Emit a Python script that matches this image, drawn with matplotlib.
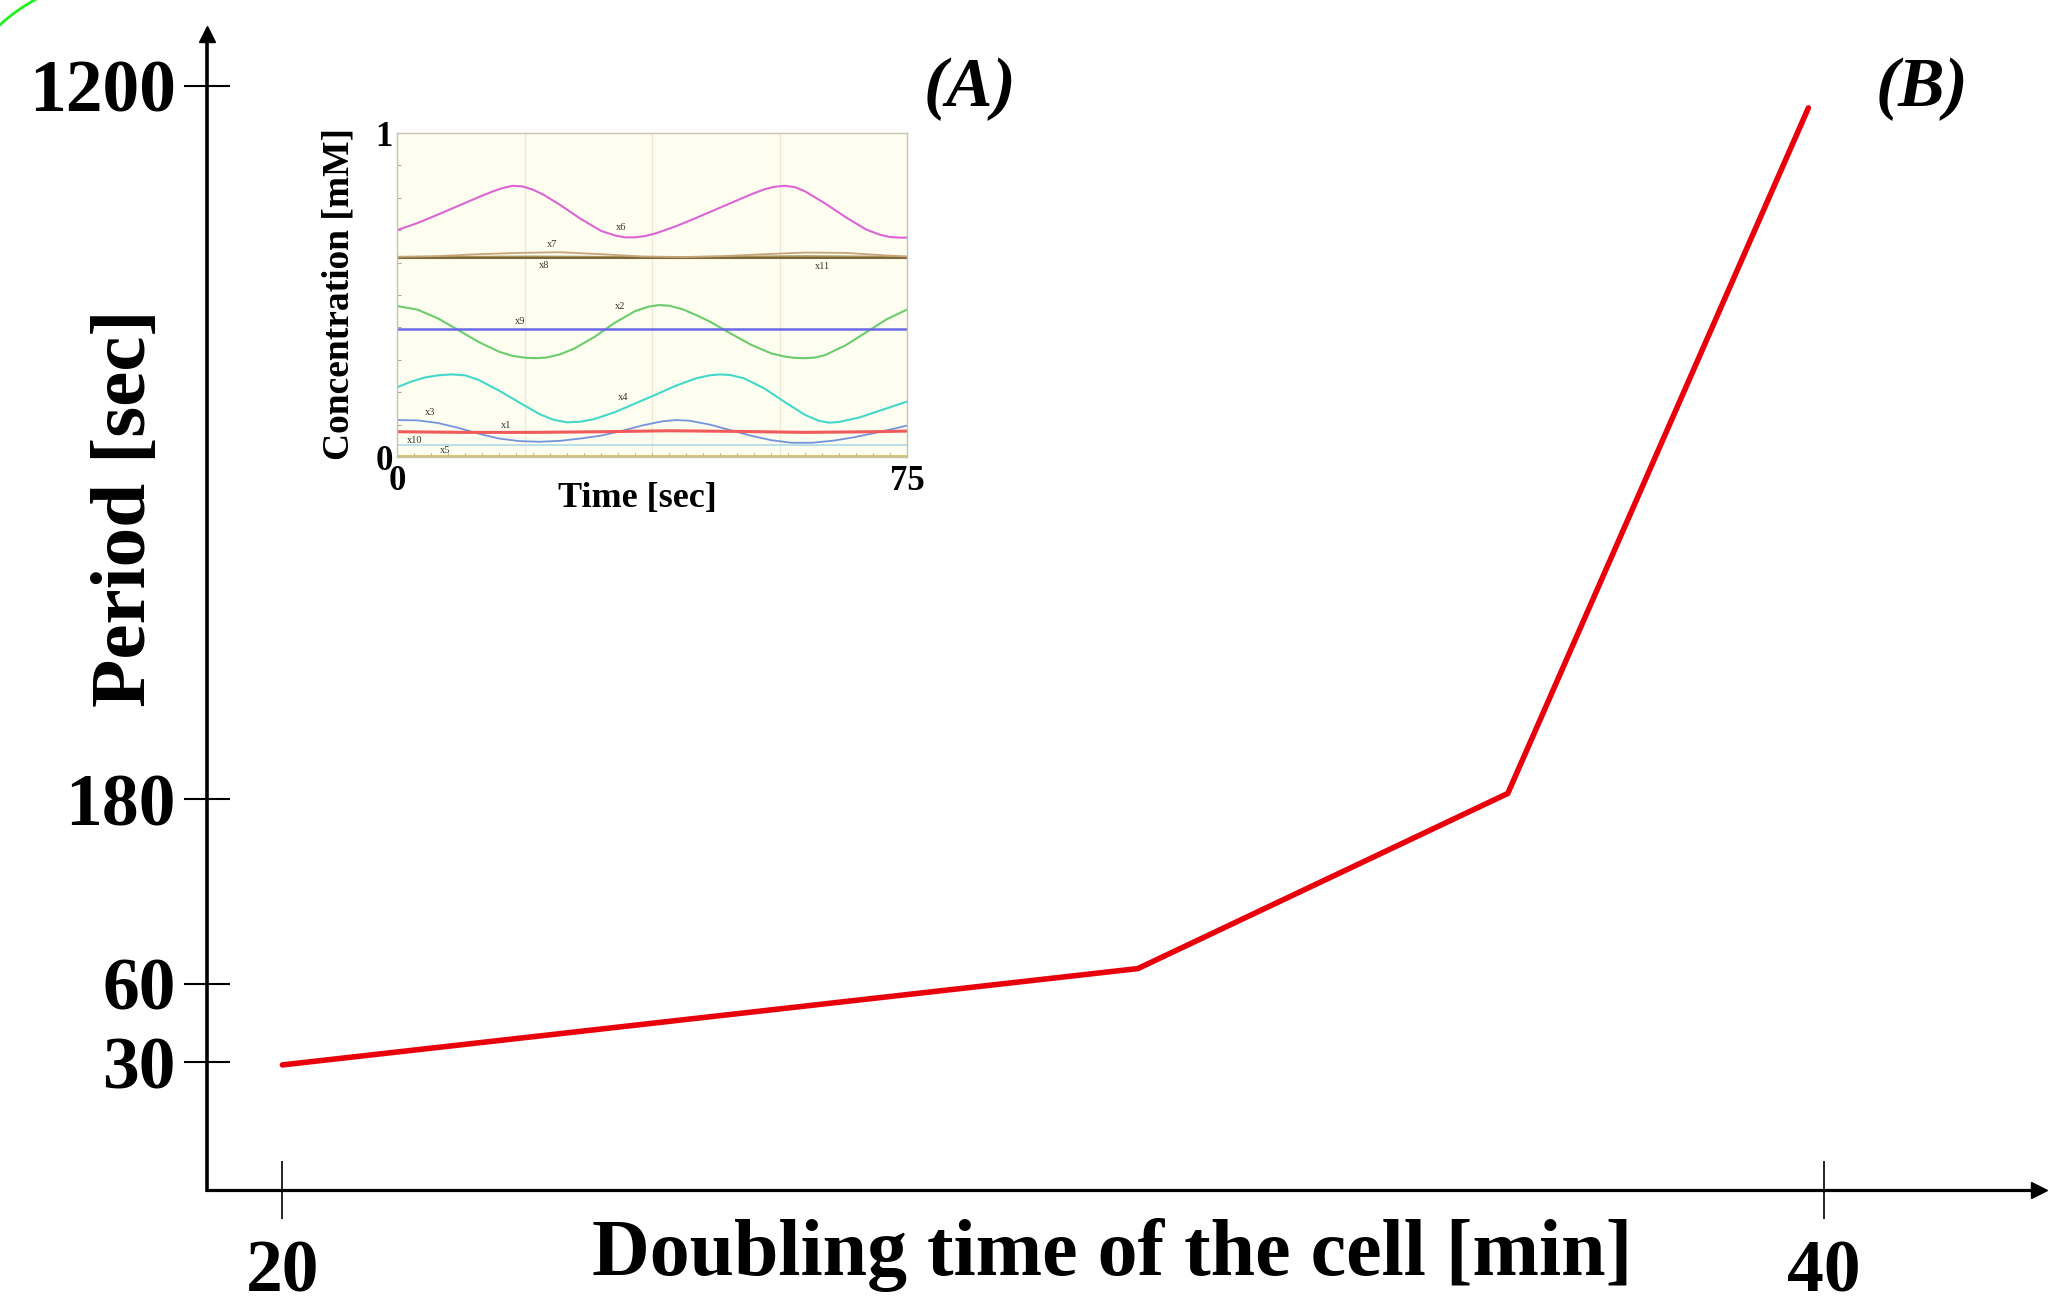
import numpy as np
import matplotlib
matplotlib.use("Agg")
import matplotlib.pyplot as plt
from matplotlib.patches import Arc

# ---------------- data: main chart ----------------
doubling_time = [20.0, 31.1, 35.9, 39.8]      # min
period = [29, 70, 188, 1168]                   # sec
y_tick_values = [30, 60, 180, 1200]
x_tick_values = [20, 40]

# ---------------- data: inset (concentration vs time) ----------------
t_x6 = [0, 3, 6, 9, 12, 14, 15.5, 17, 18.5, 20, 21.5, 24, 27, 30, 32, 33.5, 35, 36.5, 38, 41, 44, 47, 50,
        52, 54, 55.5, 57, 58.5, 60, 63, 66, 69, 71, 72.5, 74, 75]
c_x6 = [0.700, 0.722, 0.748, 0.775, 0.802, 0.819, 0.830, 0.837, 0.835, 0.825, 0.810, 0.778, 0.735, 0.698,
        0.684, 0.678, 0.678, 0.682, 0.690, 0.712, 0.738, 0.765, 0.792, 0.810, 0.826, 0.834, 0.837, 0.833,
        0.820, 0.782, 0.740, 0.702, 0.686, 0.679, 0.677, 0.677]

t_x7 = [0, 6, 12, 18, 24, 30, 36, 42, 48, 54, 60, 66, 72, 75]
c_x7 = [0.618, 0.620, 0.626, 0.630, 0.632, 0.626, 0.619, 0.617, 0.620, 0.626, 0.631, 0.630, 0.622, 0.619]
t_x8 = [0, 75]
c_x8 = [0.615, 0.615]
t_x11 = [0, 20, 40, 60, 75]
c_x11 = [0.617, 0.619, 0.617, 0.620, 0.618]

t_x2 = [0, 3, 6, 9, 12, 15, 17, 19, 20.5, 22, 24, 26, 29, 32, 35, 37, 38.5, 40, 42, 44, 46, 49, 52, 55, 57,
        58.5, 60, 61.5, 63, 66, 69, 72, 75]
c_x2 = [0.466, 0.455, 0.428, 0.392, 0.355, 0.325, 0.312, 0.306, 0.305, 0.307, 0.317, 0.334, 0.370, 0.414,
        0.450, 0.464, 0.469, 0.467, 0.456, 0.438, 0.418, 0.382, 0.347, 0.320, 0.310, 0.306, 0.305, 0.307,
        0.315, 0.345, 0.385, 0.425, 0.455]

t_x9 = [0, 75]
c_x9 = [0.394, 0.394]

t_x4 = [0, 2, 4, 6, 8, 10, 12, 15, 18, 21, 23, 25, 27, 29, 32, 35, 38, 41, 44, 46, 47.5, 49, 51, 54, 57, 60,
        62, 63.5, 65, 68, 71, 75]
c_x4 = [0.215, 0.232, 0.245, 0.252, 0.255, 0.252, 0.238, 0.205, 0.168, 0.132, 0.115, 0.107, 0.109, 0.117,
        0.138, 0.165, 0.192, 0.220, 0.243, 0.252, 0.255, 0.253, 0.243, 0.212, 0.170, 0.130, 0.112, 0.106,
        0.108, 0.122, 0.143, 0.171]

t_x3 = [0, 3, 6, 9, 12, 15, 18, 21, 24, 27, 30, 33, 36, 39, 41, 43, 46, 49, 52, 55, 58, 61, 64, 67, 70, 73, 75]
c_x3 = [0.114, 0.113, 0.105, 0.090, 0.072, 0.057, 0.049, 0.047, 0.050, 0.057, 0.066, 0.080, 0.097, 0.110,
        0.114, 0.112, 0.100, 0.083, 0.066, 0.052, 0.044, 0.044, 0.050, 0.060, 0.073, 0.087, 0.097]

t_x1 = [0, 10, 20, 30, 40, 50, 60, 70, 75]
c_x1 = [0.078, 0.076, 0.076, 0.078, 0.081, 0.079, 0.076, 0.078, 0.080]

t_x10 = [0, 75]
c_x10 = [0.037, 0.037]
t_x5 = [0, 75]
c_x5 = [0.004, 0.004]

inset_labels = ["x6", "x7", "x8", "x11", "x2", "x9", "x4", "x3", "x1", "x10", "x5"]
inset_label_t = [33.0, 22.8, 21.6, 62.5, 32.8, 18.1, 33.3, 4.9, 16.1, 2.6, 7.1]
inset_label_c = [0.709, 0.657, 0.590, 0.587, 0.464, 0.418, 0.184, 0.137, 0.096, 0.050, 0.020]

# ---------------- figure ----------------
W, H = 2050, 1307
fig = plt.figure(figsize=(W / 100, H / 100), dpi=100)
fig.patch.set_facecolor("white")
SERIF = ["Liberation Serif", "DejaVu Serif"]

# custom (piecewise-linear) period axis, anchored at the labelled values
anchor_vals = np.array(y_tick_values, float)
anchor_pos = np.array([127.7, 206.0, 391.0, 1104.5])
lo_slope = (anchor_pos[1] - anchor_pos[0]) / (anchor_vals[1] - anchor_vals[0])
hi_slope = (anchor_pos[-1] - anchor_pos[-2]) / (anchor_vals[-1] - anchor_vals[-2])
vals_ext = np.concatenate([[-1000.0], anchor_vals, [1e5]])
pos_ext = np.concatenate([[anchor_pos[0] + (-1000.0 - anchor_vals[0]) * lo_slope], anchor_pos,
                          [anchor_pos[-1] + (1e5 - anchor_vals[-1]) * hi_slope]])


def fwd(v):
    return np.interp(np.asarray(v, float), vals_ext, pos_ext)


def inv(p):
    return np.interp(np.asarray(p, float), pos_ext, vals_ext)


ax_left, ax_bottom_px, ax_right, ax_top_px = 207, 1190, 2039, 34
ax = fig.add_axes([ax_left / W, (H - ax_bottom_px) / H, (ax_right - ax_left) / W,
                   (ax_bottom_px - ax_top_px) / H])
ax.set_yscale("function", functions=(fwd, inv))
ax.set_ylim(inv(0), inv(ax_bottom_px - ax_top_px))
px_per_unit = (1823.8 - 282.4) / 20.0
ax.set_xlim(20 - (282.4 - ax_left) / px_per_unit, 40 + (ax_right - 1823.8) / px_per_unit)

ax.plot(doubling_time, period, color="#e8000b", lw=4.0, solid_capstyle="round", zorder=3)

for s in ("top", "right"):
    ax.spines[s].set_visible(False)
ax.spines["left"].set_linewidth(2.6)
ax.spines["bottom"].set_linewidth(2.3)
ax.plot([0], [1], marker="^", ms=12, color="k", transform=ax.transAxes, clip_on=False)
ax.plot([1], [0], marker=">", ms=12, color="k", transform=ax.transAxes, clip_on=False)

ax.set_yticks(y_tick_values)
ax.set_yticklabels([str(v) for v in y_tick_values])
ax.set_xticks(x_tick_values)
ax.set_xticklabels([str(v) for v in x_tick_values])
ax.minorticks_off()
ax.tick_params(axis="y", direction="inout", length=33, width=1.5, pad=6)
ax.tick_params(axis="x", direction="inout", length=42, width=1.2, pad=15)
for lab in ax.get_xticklabels() + ax.get_yticklabels():
    lab.set_fontfamily(SERIF)
    lab.set_fontweight("bold")
    lab.set_fontsize(53)

ax.set_xlabel("Doubling time of the cell [min]", fontfamily=SERIF, fontweight="bold", fontsize=57.5)
ax.xaxis.set_label_coords((1112 - ax_left) / (ax_right - ax_left), -(1255 - ax_bottom_px) / (ax_bottom_px - ax_top_px))
ax.xaxis.label.set_verticalalignment("center")
ax.set_ylabel("Period [sec]", fontfamily=SERIF, fontweight="bold", fontsize=57)
ax.yaxis.set_label_coords((127 - ax_left) / (ax_right - ax_left), (ax_bottom_px - 508) / (ax_bottom_px - ax_top_px))
ax.yaxis.label.set_verticalalignment("center")

fig.text(970 / W, 1 - 89 / H, "(A)", fontfamily=SERIF, fontweight="bold", fontstyle="italic",
         fontsize=50, ha="center", va="center")
fig.text(1922 / W, 1 - 89 / H, "(B)", fontfamily=SERIF, fontweight="bold", fontstyle="italic",
         fontsize=50, ha="center", va="center")

# green arc artefact in the top-left corner
fig.add_artist(Arc((1.30, (H - 170) / 100), 3.9, 3.9, theta1=112, theta2=138,
                   transform=fig.dpi_scale_trans, color="#22ee22", lw=2.0))

# ---------------- inset ----------------
in_l, in_r, in_t, in_b = 397, 907, 133, 457
axin = fig.add_axes([in_l / W, (H - in_b) / H, (in_r - in_l) / W, (in_b - in_t) / H])
axin.set_facecolor("#fdfdf0")
axin.set_xlim(0, 75)
axin.set_ylim(0, 1)
for k in (1, 2, 3):
    axin.axvline(75 * k / 4, color="#ebebd6", lw=0.9, zorder=0)

series = [
    (t_x6, c_x6, "#dc64d4", 1.5),
    (t_x11, c_x11, "#a8905a", 1.3),
    (t_x8, c_x8, "#7c6a3c", 1.5),
    (t_x7, c_x7, "#c8a47a", 1.3),
    (t_x2, c_x2, "#6ccc6c", 1.5),
    (t_x9, c_x9, "#6a6ae6", 1.8),
    (t_x4, c_x4, "#44d8c8", 1.5),
    (t_x3, c_x3, "#7494dc", 1.3),
    (t_x1, c_x1, "#f05a5a", 2.2),
    (t_x10, c_x10, "#a8d8e6", 1.1),
    (t_x5, c_x5, "#d6c068", 2.0),
]
for tt, cc, col, lw in series:
    axin.plot(tt, cc, color=col, lw=lw, solid_joinstyle="round")

for name, tx, cy in zip(inset_labels, inset_label_t, inset_label_c):
    axin.text(tx, cy, name, fontsize=7.5, fontfamily=SERIF, color="#333333", ha="center", va="center")

for s in axin.spines.values():
    s.set_color("#c6c2ae")
    s.set_linewidth(1.0)
axin.set_xticks([0, 75])
axin.set_yticks([0, 1])
axin.set_xticks(np.arange(0, 75.01, 2.5), minor=True)
axin.set_yticks(np.arange(0, 1.001, 0.1), minor=True)
axin.tick_params(which="major", length=0, pad=6)
axin.tick_params(axis="y", which="major", pad=3)
axin.tick_params(which="minor", direction="in", length=3, width=0.8, color="#b0aa98")
for lab in axin.get_xticklabels() + axin.get_yticklabels():
    lab.set_fontfamily(SERIF)
    lab.set_fontweight("bold")
    lab.set_fontsize(25)
axin.set_xlabel("Time [sec]", fontfamily=SERIF, fontweight="bold", fontsize=26)
axin.xaxis.set_label_coords((637 - in_l) / (in_r - in_l), -(498 - in_b) / (in_b - in_t))
axin.xaxis.label.set_verticalalignment("center")
axin.set_ylabel("Concentration [mM]", fontfamily=SERIF, fontweight="bold", fontsize=27)
axin.yaxis.set_label_coords((339 - in_l) / (in_r - in_l), (in_b - 294) / (in_b - in_t))
axin.yaxis.label.set_verticalalignment("center")

fig.savefig("out.png", dpi=100, facecolor="white")
